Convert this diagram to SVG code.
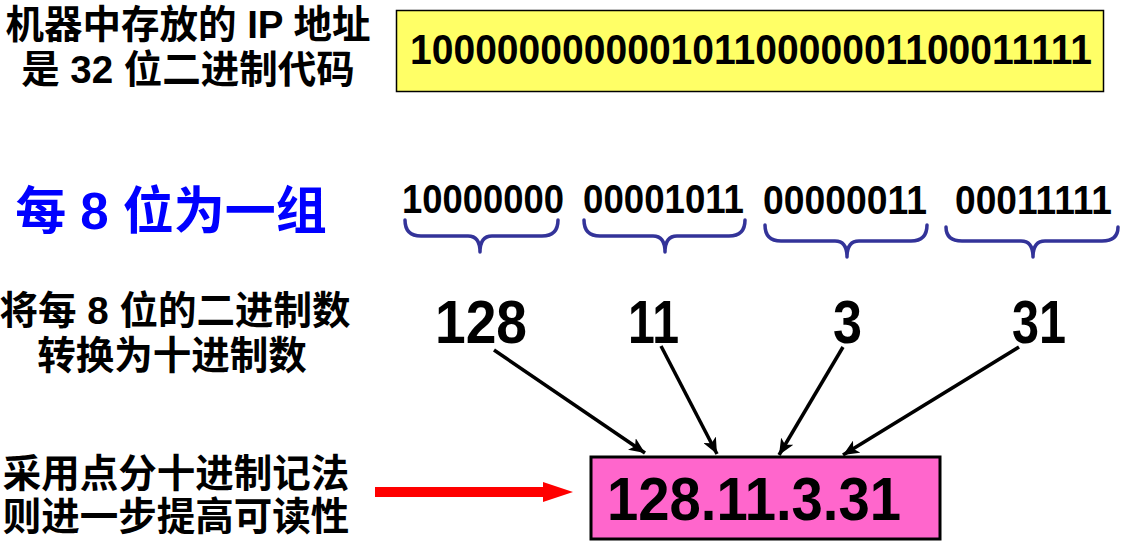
<svg xmlns="http://www.w3.org/2000/svg" width="1125" height="548" viewBox="0 0 1125 548">
<style>
.lbl{font-family:"Liberation Sans","Noto Sans CJK SC",sans-serif;font-weight:bold;font-size:38.5px;fill:#000;text-anchor:middle}
.num{font-family:"Liberation Sans",sans-serif;font-weight:bold;fill:#000}
.brace{fill:none;stroke:#333399;stroke-width:3.5;stroke-linecap:round;stroke-linejoin:round}
.conn{stroke:#000;stroke-width:3.5;fill:none}
</style>
<defs>
<marker id="ah" markerUnits="userSpaceOnUse" markerWidth="18" markerHeight="14" refX="16" refY="7" orient="auto">
<path d="M0,0 L16,7 L0,14 L4,7 Z" fill="#000"/>
</marker>
</defs>
<rect width="1125" height="548" fill="#fff"/>

<g id="label-stored">
<text class="lbl" x="188" y="38">机器中存放的 IP 地址</text>
<text class="lbl" x="188" y="83">是 32 位二进制代码</text>
</g>

<g id="binary32">
<rect x="396.5" y="10.5" width="707" height="81" fill="#ffff66" stroke="#000" stroke-width="1.5"/>
<text class="num" transform="translate(410,64) scale(1,1.12)" x="0" y="0" font-size="38.3" textLength="682" lengthAdjust="spacingAndGlyphs">10000000000010110000001100011111</text>
</g>

<g id="label-group">
<text class="lbl" x="171" y="229" style="font-size:51px;fill:#0000ff">每 8 位为一组</text>
</g>

<g id="bytes">
<text class="num" x="402" y="213" font-size="40" textLength="162" lengthAdjust="spacingAndGlyphs">10000000</text>
<text class="num" x="583" y="213" font-size="40" textLength="161" lengthAdjust="spacingAndGlyphs">00001011</text>
<text class="num" x="763" y="214" font-size="40" textLength="164" lengthAdjust="spacingAndGlyphs">00000011</text>
<text class="num" x="955" y="214" font-size="40" textLength="157" lengthAdjust="spacingAndGlyphs">00011111</text>
</g>

<g id="braces">
<path class="brace" d="M405,220 Q405,236 421,236 L468,236 Q480,236 480,252 Q480,236 492,236 L542,236 Q558,236 558,220"/>
<path class="brace" d="M584,220 Q584,236 600,236 L653,236 Q665,236 665,252 Q665,236 677,236 L729,236 Q745,236 745,220"/>
<path class="brace" d="M765,225 Q765,241 781,241 L835,241 Q847,241 847,257 Q847,241 859,241 L911,241 Q927,241 927,225"/>
<path class="brace" d="M946,227 Q946,241 962,241 L1021,241 Q1033,241 1033,257 Q1033,241 1045,241 L1102,241 Q1118,241 1118,227"/>
</g>

<g id="label-convert">
<text class="lbl" x="175" y="324">将每 8 位的二进制数</text>
<text class="lbl" x="172" y="369">转换为十进制数</text>
</g>

<g id="decimals">
<text class="num" x="435" y="343" font-size="62" textLength="92" lengthAdjust="spacingAndGlyphs">128</text>
<text class="num" x="628" y="343" font-size="62" textLength="51" lengthAdjust="spacingAndGlyphs">11</text>
<text class="num" x="833" y="343" font-size="62" textLength="29" lengthAdjust="spacingAndGlyphs">3</text>
<text class="num" x="1012" y="343" font-size="62" textLength="54" lengthAdjust="spacingAndGlyphs">31</text>
</g>

<g id="label-dotted">
<text class="lbl" x="176" y="487">采用点分十进制记法</text>
<text class="lbl" x="176" y="530">则进一步提高可读性</text>
</g>

<g id="result">
<rect x="591" y="457" width="349" height="82" fill="#ff66cc" stroke="#000" stroke-width="3"/>
<text class="num" x="607" y="520" font-size="62" textLength="294" lengthAdjust="spacingAndGlyphs">128.11.3.31</text>
</g>

<g id="connectors">
<line class="conn" x1="494" y1="350" x2="645" y2="453" marker-end="url(#ah)"/>
<line class="conn" x1="661" y1="346" x2="717" y2="454" marker-end="url(#ah)"/>
<line class="conn" x1="843" y1="347" x2="779" y2="455" marker-end="url(#ah)"/>
<line class="conn" x1="1019" y1="347" x2="843" y2="455" marker-end="url(#ah)"/>
<rect x="375" y="487" width="170" height="10" fill="#ff0000"/>
<polygon points="543,482 573,492 543,502" fill="#ff0000"/>
</g>
</svg>
